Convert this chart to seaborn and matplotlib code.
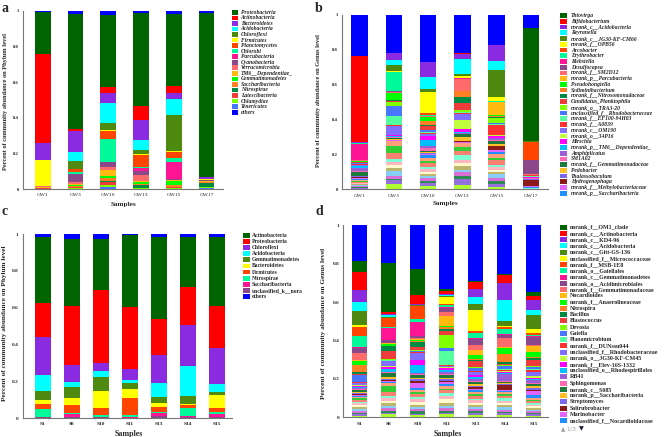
import numpy as np
import seaborn as sns
import matplotlib.pyplot as plt
from matplotlib.patches import Rectangle

# ---------------- data ----------------
# shared colour table used by the original software (legend order)
base_colors = ["#006400", "#FF0000", "#8A2BE2", "#00FFFF", "#4F8A10", "#FFFF00", "#FF4500", "#00FA9A",
               "#FF1493", "#8B4789", "#FF6A6A", "#FFB90F", "#00FF00", "#FF7F24", "#008B45", "#EE3B3B",
               "#7FFF00", "#4876FF", "#54FF9F", "#FF3030", "#836FFF", "#C0FF3E", "#FF00FF", "#00BFFF",
               "#9A5FD6", "#FF69B4", "#1C7A3C", "#FFC125", "#7B68EE", "#8B1A1A", "#E066FF", "#1E90FF"]
others_color = "#0000FF"
# genera on legend pages 2-3 (not listed on page 1)
more_colors = ["#FFA07A", "#32CD32", "#FA8072", "#7FFFD4", "#FFB6C1", "#FFFACD",
               "#BDB76B", "#87CEFA", "#DA70D6", "#2E8B57", "#9370DB", "#ADFF2F"]

# a: phylum level, groundwater
a_samples = ["GW1", "GW3", "GW10", "GW13", "GW15", "GW17"]
a_taxa = ["Proteobacteria", "Actinobacteria", "Bacteroidetes", "Acidobacteria", "Chloroflexi",
          "Firmicutes", "Planctomycetes", "Chlorobi", "Parcubacteria", "Cyanobacteria",
          "Verrucomicrobia", "TM6__Dependentiae_", "Gemmatimonadetes", "Saccharibacteria",
          "Nitrospirae", "Latescibacteria", "Chlamydiae", "Tenericutes", "others"]
a_GW1 = [0.232, 0.503, 0.097, 0.001, 0.001, 0.143, 0.001, 0.001, 0.001, 0.001, 0.001, 0.006, 0.001, 0.003, 0.001, 0.001, 0.001, 0.001, 0.008]
a_GW3 = [0.645, 0.012, 0.118, 0.052, 0.043, 0.002, 0.015, 0.010, 0.003, 0.045, 0.008, 0.004, 0.008, 0.003, 0.002, 0.004, 0.006, 0.002, 0.018]
a_GW10 = [0.400, 0.034, 0.056, 0.116, 0.039, 0.006, 0.045, 0.125, 0.003, 0.027, 0.018, 0.030, 0.012, 0.018, 0.008, 0.015, 0.012, 0.010, 0.025]
a_GW13 = [0.525, 0.080, 0.113, 0.056, 0.020, 0.010, 0.065, 0.007, 0.018, 0.023, 0.032, 0.003, 0.015, 0.004, 0.018, 0.002, 0.002, 0.001, 0.010]
a_GW15 = [0.410, 0.038, 0.032, 0.095, 0.200, 0.005, 0.035, 0.022, 0.100, 0.002, 0.003, 0.005, 0.020, 0.012, 0.003, 0.004, 0.003, 0.002, 0.015]
a_GW17 = [0.930, 0.002, 0.008, 0.002, 0.002, 0.002, 0.002, 0.001, 0.001, 0.002, 0.001, 0.008, 0.001, 0.002, 0.025, 0.001, 0.001, 0.008, 0.010]

# b: genus level, groundwater
b_samples = a_samples
b_taxa = ["Thiovirga", "Bifidobacterium", "norank_c__Acidobacteria", "Reyranella",
          "norank_c__JG30-KF-CM66", "norank_f__OPB56", "Arcobacter", "Erythrobacter", "Klebsiella",
          "Desulfocapsa", "norank_f__SM2D12", "norank_p__Parcubacteria", "Pseudohongiella",
          "Sediminibacterium", "norank_f__Nitrosomonadaceae", "Candidatus_Planktophila",
          "norank_o__TRA3-20", "unclassified_f__Rhodobacteraceae", "norank_f__EF100-94H03",
          "norank_f__A0839", "norank_c__OM190", "norank_o__34P16", "Hirschia",
          "norank_p__TM6__Dependentiae_", "Amphiplicatus", "SM1A02", "norank_f__Gemmatimonadaceae",
          "Pedobacter", "Thalassobaculum", "Hydrogenophaga", "norank_f__Methylobacteriaceae",
          "norank_p__Saccharibacteria", "others"]
b_GW1 = [0.002, 0.494, 0.001, 0.001, 0.001, 0.001, 0.001, 0.002, 0.092, 0.004, 0.002, 0.003, 0.002, 0.003, 0.002, 0.002, 0.003, 0.004, 0.002, 0.003, 0.004, 0.002, 0.002, 0.012, 0.018, 0.004, 0.020, 0.003, 0.004, 0.004, 0.006, 0.006, 0.235]
b_GW3 = [0.001, 0.001, 0.042, 0.026, 0.035, 0.007, 0.001, 0.107, 0.001, 0.001, 0.008, 0.001, 0.037, 0.002, 0.008, 0.006, 0.023, 0.054, 0.055, 0.004, 0.051, 0.002, 0.005, 0.002, 0.004, 0.003, 0.008, 0.002, 0.003, 0.002, 0.002, 0.002, 0.218]
b_GW10 = [0.001, 0.001, 0.084, 0.067, 0.019, 0.120, 0.014, 0.002, 0.001, 0.001, 0.004, 0.002, 0.022, 0.020, 0.008, 0.022, 0.003, 0.012, 0.003, 0.004, 0.012, 0.003, 0.022, 0.032, 0.012, 0.016, 0.008, 0.004, 0.006, 0.003, 0.004, 0.020, 0.271]
b_GW13 = [0.001, 0.001, 0.029, 0.090, 0.011, 0.008, 0.002, 0.002, 0.001, 0.001, 0.068, 0.002, 0.002, 0.032, 0.032, 0.044, 0.009, 0.004, 0.004, 0.003, 0.036, 0.050, 0.020, 0.004, 0.004, 0.003, 0.014, 0.024, 0.004, 0.003, 0.004, 0.004, 0.221]
b_GW15 = [0.001, 0.001, 0.089, 0.050, 0.156, 0.023, 0.002, 0.002, 0.001, 0.001, 0.002, 0.072, 0.008, 0.002, 0.007, 0.002, 0.030, 0.003, 0.003, 0.058, 0.004, 0.003, 0.010, 0.004, 0.010, 0.006, 0.016, 0.010, 0.004, 0.020, 0.014, 0.012, 0.174]
b_GW17 = [0.649, 0.001, 0.001, 0.001, 0.001, 0.001, 0.104, 0.001, 0.001, 0.081, 0.001, 0.001, 0.001, 0.001, 0.001, 0.001, 0.001, 0.001, 0.004, 0.001, 0.001, 0.001, 0.006, 0.001, 0.001, 0.001, 0.003, 0.001, 0.001, 0.035, 0.010, 0.004, 0.074]
b_GW1_more = [0.008, 0.005, 0.004, 0.003, 0.004, 0.003, 0.004, 0.006, 0.005, 0.003, 0.006, 0.004]
b_GW3_more = [0.030, 0.040, 0.035, 0.015, 0.015, 0.020, 0.015, 0.030, 0.015, 0.010, 0.020, 0.031]
b_GW10_more = [0.015, 0.012, 0.020, 0.012, 0.018, 0.015, 0.010, 0.012, 0.015, 0.010, 0.018, 0.020]
b_GW13_more = [0.020, 0.025, 0.020, 0.030, 0.020, 0.015, 0.020, 0.015, 0.020, 0.020, 0.033, 0.025]
b_GW15_more = [0.020, 0.015, 0.025, 0.015, 0.015, 0.010, 0.015, 0.020, 0.015, 0.020, 0.015, 0.015]
b_GW17_more = [0.000, 0.000, 0.000, 0.003, 0.000, 0.000, 0.000, 0.000, 0.000, 0.004, 0.000, 0.000]

# c: phylum level, soil
c_samples = ["S1", "S8", "S10", "S11", "S13", "S14", "S15"]
c_taxa = ["Actinobacteria", "Proteobacteria", "Chloroflexi", "Acidobacteria", "Gemmatimonadetes",
          "Bacteroidetes", "Firmicutes", "Nitrospirae", "Saccharibacteria", "unclassified_k__nora",
          "others"]
c_S1 = [0.360, 0.185, 0.206, 0.086, 0.048, 0.020, 0.028, 0.042, 0.005, 0.003, 0.015]
c_S8 = [0.364, 0.323, 0.092, 0.028, 0.061, 0.035, 0.045, 0.005, 0.017, 0.005, 0.025]
c_S10 = [0.279, 0.397, 0.042, 0.034, 0.076, 0.093, 0.036, 0.010, 0.005, 0.003, 0.025]
c_S11 = [0.393, 0.338, 0.056, 0.018, 0.030, 0.052, 0.092, 0.012, 0.002, 0.002, 0.005]
c_S13 = [0.445, 0.196, 0.154, 0.074, 0.036, 0.018, 0.032, 0.005, 0.013, 0.012, 0.015]
c_S14 = [0.275, 0.206, 0.221, 0.165, 0.040, 0.010, 0.016, 0.040, 0.007, 0.005, 0.015]
c_S15 = [0.375, 0.230, 0.195, 0.046, 0.014, 0.069, 0.026, 0.008, 0.017, 0.005, 0.015]

# d: genus level, soil
d_samples = c_samples
d_taxa = ["norank_f__OM1_clade", "norank_c__Actinobacteria", "norank_c__KD4-96",
          "norank_c__Acidobacteria", "norank_c__Gitt-GS-136", "unclassified_f__Micrococcaceae",
          "norank_f__MSB-1E8", "norank_o__Gaiellales", "norank_c__Gemmatimonadetes",
          "norank_o__Acidimicrobiales", "norank_f__Gemmatimonadaceae", "Nocardioides",
          "norank_f__Anaerolineaceae", "Nitrospira", "Bacillus", "Blastococcus", "Devosia", "Gaiella",
          "Planomicrobium", "norank_f__DUNssu044", "unclassified_f__Rhodobacteraceae",
          "norank_o__JG30-KF-CM45", "norank_f__Elev-16S-1332", "unclassified_o__Rhodospirillales",
          "RB41", "Sphingomonas", "norank_c__S085", "norank_p__Saccharibacteria", "Streptomyces",
          "Solirubrobacter", "Marinobacter", "unclassified_f__Nocardioidaceae", "others"]
d_S1 = [0.055, 0.092, 0.064, 0.049, 0.071, 0.012, 0.047, 0.057, 0.003, 0.025, 0.040, 0.005, 0.020, 0.035, 0.012, 0.004, 0.003, 0.032, 0.003, 0.003, 0.010, 0.005, 0.005, 0.005, 0.010, 0.005, 0.006, 0.006, 0.006, 0.006, 0.004, 0.004, 0.188]
d_S8 = [0.255, 0.011, 0.004, 0.013, 0.004, 0.002, 0.045, 0.007, 0.062, 0.012, 0.003, 0.003, 0.010, 0.003, 0.025, 0.043, 0.003, 0.003, 0.002, 0.002, 0.026, 0.002, 0.012, 0.015, 0.003, 0.003, 0.022, 0.010, 0.005, 0.004, 0.005, 0.005, 0.196]
d_S10 = [0.139, 0.045, 0.003, 0.003, 0.003, 0.002, 0.069, 0.012, 0.075, 0.012, 0.005, 0.004, 0.006, 0.004, 0.026, 0.017, 0.003, 0.005, 0.003, 0.003, 0.035, 0.004, 0.025, 0.038, 0.006, 0.008, 0.012, 0.008, 0.012, 0.006, 0.030, 0.008, 0.226]
d_S11 = [0.008, 0.018, 0.006, 0.006, 0.006, 0.032, 0.006, 0.010, 0.005, 0.025, 0.018, 0.050, 0.010, 0.008, 0.008, 0.025, 0.068, 0.016, 0.070, 0.005, 0.005, 0.008, 0.010, 0.008, 0.010, 0.008, 0.012, 0.008, 0.008, 0.008, 0.010, 0.008, 0.332]
d_S13 = [0.008, 0.038, 0.039, 0.035, 0.034, 0.110, 0.008, 0.028, 0.003, 0.034, 0.025, 0.027, 0.022, 0.003, 0.008, 0.030, 0.006, 0.012, 0.004, 0.004, 0.012, 0.005, 0.010, 0.008, 0.010, 0.008, 0.010, 0.008, 0.008, 0.008, 0.008, 0.008, 0.288]
d_S14 = [0.005, 0.045, 0.087, 0.110, 0.022, 0.006, 0.010, 0.030, 0.003, 0.015, 0.048, 0.003, 0.035, 0.042, 0.006, 0.010, 0.003, 0.018, 0.003, 0.003, 0.003, 0.003, 0.008, 0.003, 0.038, 0.004, 0.006, 0.006, 0.005, 0.025, 0.005, 0.006, 0.253]
d_S15 = [0.022, 0.022, 0.052, 0.026, 0.075, 0.018, 0.010, 0.008, 0.005, 0.040, 0.006, 0.030, 0.026, 0.006, 0.010, 0.030, 0.008, 0.012, 0.005, 0.008, 0.020, 0.010, 0.006, 0.008, 0.012, 0.008, 0.010, 0.008, 0.010, 0.008, 0.020, 0.015, 0.345]
d_S1_more = [0.010, 0.008, 0.012, 0.006, 0.010, 0.008, 0.012, 0.008, 0.010, 0.008, 0.008, 0.008]
d_S8_more = [0.015, 0.035, 0.018, 0.010, 0.015, 0.015, 0.012, 0.010, 0.015, 0.010, 0.010, 0.015]
d_S10_more = [0.012, 0.010, 0.015, 0.010, 0.015, 0.018, 0.010, 0.012, 0.010, 0.012, 0.009, 0.010]
d_S11_more = [0.015, 0.010, 0.015, 0.015, 0.015, 0.020, 0.015, 0.010, 0.015, 0.010, 0.010, 0.015]
d_S13_more = [0.012, 0.010, 0.012, 0.010, 0.012, 0.010, 0.012, 0.010, 0.012, 0.010, 0.012, 0.010]
d_S14_more = [0.010, 0.012, 0.010, 0.015, 0.010, 0.012, 0.010, 0.012, 0.010, 0.010, 0.010, 0.010]
d_S15_more = [0.010, 0.008, 0.010, 0.008, 0.008, 0.008, 0.010, 0.008, 0.008, 0.008, 0.007, 0.008]

# ---------------- drawing ----------------
sns.set_style("white")
plt.rcParams["font.family"] = ["Liberation Serif", "DejaVu Serif"]

W, H = 669, 437
fig = plt.figure(figsize=(W / 100, H / 100), dpi=100)


def fx(x):
    return x / W


def fy(y):
    return 1 - y / H


def stacked_panel(box, samples, columns, n_taxa, more_columns, width, xlim, xtick_weight, fs):
    l, t, r, b = box
    ax = fig.add_axes([fx(l), fy(b), (r - l) / W, (b - t) / H])
    colors = base_colors[:n_taxa - 1]
    # bar from top down: others, legend taxa, unlisted taxa
    layer_colors = [others_color] + colors
    vals = [np.r_[c[-1], c[:-1]] for c in columns]
    if more_columns is not None:
        layer_colors = layer_colors + more_colors
        vals = [np.r_[v, m] for v, m in zip(vals, more_columns)]
    vals = np.array(vals, dtype=float).T
    vals = vals / vals.sum(axis=0)
    tops = 1 - np.cumsum(vals, axis=0) + vals
    for color, top in zip(layer_colors, tops):
        sns.barplot(x=samples, y=top, order=samples, color=color, saturation=1,
                    width=width, linewidth=0, errorbar=None, ax=ax)
    ax.set_xlim(*xlim)
    ax.set_ylim(0, 1)
    ax.set_xlabel("")
    ax.set_ylabel("")
    ax.set_yticks([0, 0.2, 0.4, 0.6, 0.8, 1.0], ["0", "0.2", "0.4", "0.6", "0.8", "1"],
                  fontsize=fs[0], fontweight="bold")
    ax.set_xticks(range(len(samples)), samples, fontsize=fs[1], fontweight=xtick_weight)
    ax.set_xticks(np.arange(-0.5, len(samples), 1), minor=True)
    ax.tick_params(axis="x", which="major", length=0, pad=3.2)
    ax.tick_params(axis="x", which="minor", length=1.6, width=0.6, color="#666", direction="out")
    ax.tick_params(axis="y", length=1.8, width=0.6, color="#666", pad=1.2, direction="out")
    sns.despine(ax=ax)
    for s in ("left", "bottom"):
        ax.spines[s].set_color("#777777")
        ax.spines[s].set_linewidth(0.8)
    return ax


def legend_block(x0, y0, dy, names, colors, size, style, text_dx, box_w, box_h):
    for i, (name, color) in enumerate(zip(names, colors)):
        top = y0 + i * dy
        fig.add_artist(Rectangle((fx(x0), fy(top + box_h)), box_w / W, box_h / H,
                                 transform=fig.transFigure, facecolor=color, edgecolor="none"))
        fig.text(fx(x0 + text_dx), fy(top + box_h / 2), name, fontsize=size, fontstyle=style,
                 fontweight="bold", va="center", ha="left")


# panel a
stacked_panel((23, 11, 223, 189), a_samples, [a_GW1, a_GW3, a_GW10, a_GW13, a_GW15, a_GW17],
              len(a_taxa), None, 0.48, (-0.606, 5.455), "normal", (3.4, 3.9))
legend_block(232, 10, 5.55, a_taxa, base_colors[:len(a_taxa) - 1] + [others_color],
             4.1, "italic", 8.7, 5.7, 4.6)

# panel b
stacked_panel((342, 14.7, 548, 189.3), b_samples, [b_GW1, b_GW3, b_GW10, b_GW13, b_GW15, b_GW17],
              len(b_taxa), [b_GW1_more, b_GW3_more, b_GW10_more, b_GW13_more, b_GW15_more, b_GW17_more],
              0.48, (-0.517, 5.402), "normal", (3.4, 3.9))
legend_block(560.3, 13.3, 5.73, b_taxa[:-1], base_colors, 4.1, "italic", 10.5, 7, 4.7)

# panel c
stacked_panel((22.7, 234, 231.7, 418), c_samples, [c_S1, c_S8, c_S10, c_S11, c_S13, c_S14, c_S15],
              len(c_taxa), None, 0.54, (-0.69, 6.517), "bold", (3.8, 3.9))
legend_block(242.7, 233, 6.1, c_taxa, base_colors[:len(c_taxa) - 1] + [others_color],
             4.1, "normal", 9, 7.3, 4.8)

# panel d
stacked_panel((343.3, 225.3, 548, 417.3), d_samples, [d_S1, d_S8, d_S10, d_S11, d_S13, d_S14, d_S15],
              len(d_taxa), [d_S1_more, d_S8_more, d_S10_more, d_S11_more, d_S13_more, d_S14_more, d_S15_more],
              0.51, (-0.569, 6.41), "bold", (3.8, 3.9))
legend_block(560.3, 224.7, 6.24, d_taxa[:-1], base_colors, 4.3, "normal", 9.7, 7, 5)
fig.text(fx(561), fy(428.7), "\u25b2 1/3", fontsize=4, color="#999999", va="center",
         family="DejaVu Sans")
fig.text(fx(579), fy(428.7), "\u25bc", fontsize=4.5, color="#1a1a2e", va="center",
         family="DejaVu Sans")

# axis titles and panel letters
ylab_phy = "Percent of community abundance on Phylum level"
ylab_gen = "Percent of community abundance on Genus level"
for x, y, txt, fs in [(5.5, 101, ylab_phy, 4.6), (318.5, 101, ylab_gen, 4.6),
                      (4.5, 323, ylab_phy, 5.2), (323, 323, ylab_gen, 5.2)]:
    fig.text(fx(x), fy(y), txt, rotation=90, fontsize=fs, fontweight="bold",
             ha="center", va="center")
for x, y, fs in [(124, 204.5, 5.2), (446, 203.7, 5.2), (129, 434.5, 5.7), (447.5, 434, 5.7)]:
    fig.text(fx(x), fy(y), "Samples", fontsize=fs, fontweight="bold", ha="center", va="center")
for x, y, letter in [(1.5, 1.5, "a"), (315, 2, "b"), (1.5, 205, "c"), (315, 205, "d")]:
    fig.text(fx(x), fy(y), letter, fontsize=10, fontweight="bold", ha="left", va="top")

fig.savefig("out.png", dpi=100)
